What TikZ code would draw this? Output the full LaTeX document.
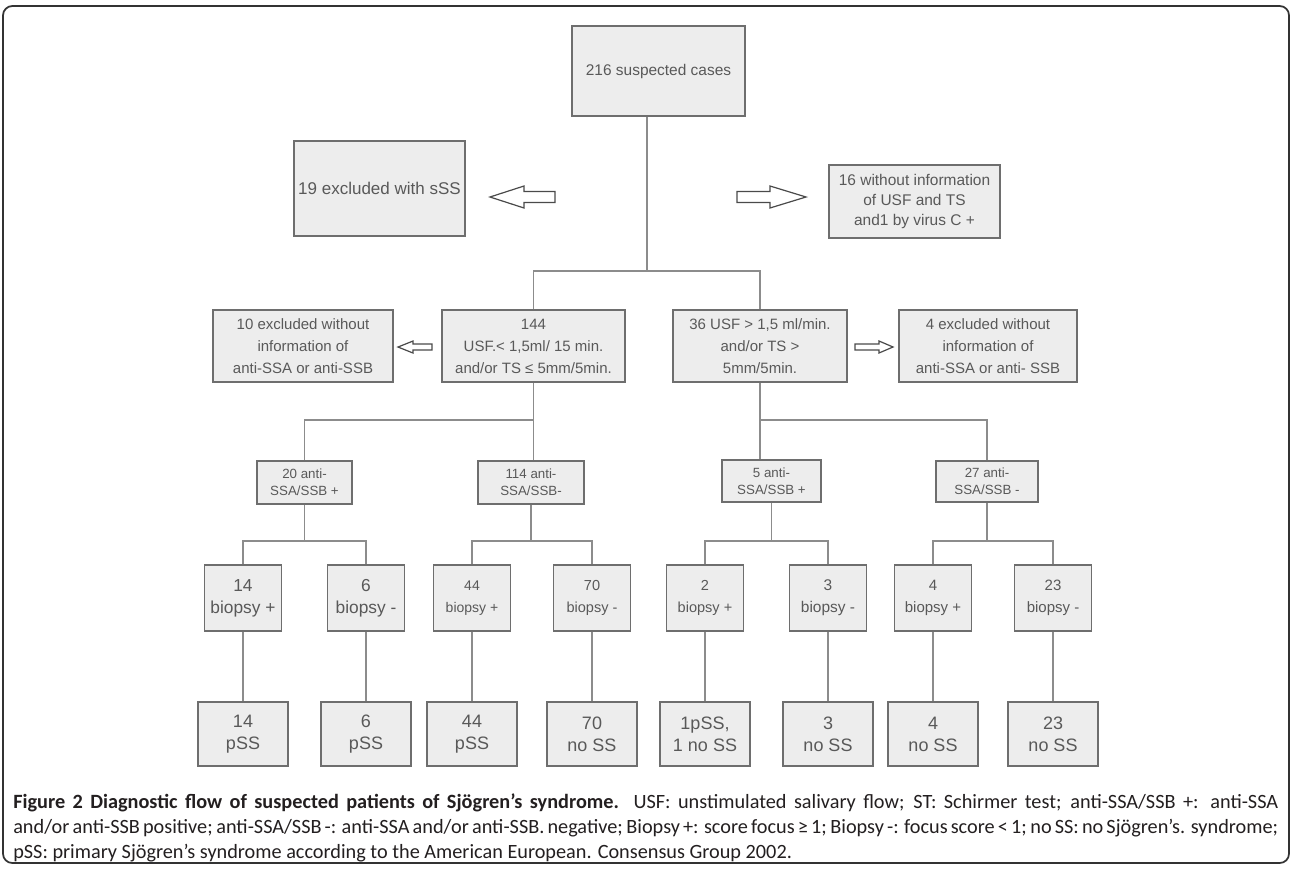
\documentclass[tikz,border=0pt]{standalone}
\usepackage{fontspec}
\setmainfont{Liberation Sans}
\newfontfamily\capfont{Carlito}
\usetikzlibrary{calc}
\definecolor{boxfill}{HTML}{EDEDED}
\definecolor{boxline}{HTML}{6E6E6E}
\definecolor{txtgray}{HTML}{595959}
\definecolor{conn}{HTML}{8C8C8C}
\definecolor{arrline}{HTML}{4A4A4A}
\definecolor{captxt}{HTML}{231F20}
\newcommand\bx[7][]{%
 \pgfmathsetmacro\bxcx{((#3)+(#5))/2}%
 \pgfmathsetmacro\bxcy{((#4)+(#6))/2}%
 \pgfmathsetmacro\bxw{((#5)-(#3))*0.75}%
 \pgfmathsetmacro\bxh{((#6)-(#4))*0.75}%
 \node[box,minimum width=\bxw pt,minimum height=\bxh pt,#1] (#2) at (\bxcx,\bxcy) {#7};}
\newcommand\bc[7][]{%
 \pgfmathsetmacro\bxcy{((#5)+(#6))/2}%
 \pgfmathsetmacro\bxw{(#4)*0.75}%
 \pgfmathsetmacro\bxh{((#6)-(#5))*0.75}%
 \node[box,minimum width=\bxw pt,minimum height=\bxh pt,#1] (#2) at (#3,\bxcy) {#7};}
\begin{document}
\begin{tikzpicture}[x=0.75pt,y=-0.75pt,
  box/.style={draw=boxline,fill=boxfill,line width=1.1pt,text=txtgray,align=center,inner sep=0pt},
  fs/.style 2 args={font={\fontsize{#1}{#2}\selectfont}},
  link/.style={draw=conn,line width=1pt},
  blockarrow/.style={draw=arrline,fill=white,line width=0.9pt,line join=miter},
  frame/.style={draw=black!80,line width=1.3pt,rounded corners=7pt},
  captext/.style={anchor=base west,inner sep=0pt,text=captxt,font={\capfont\fontsize{15.2pt}{18pt}\selectfont}}]
\useasboundingbox (0,0) rectangle (1292,868);
\fill[white] (0,0) rectangle (1292,868);
\draw[frame] (3,6) rectangle (1289,863);

% level 0 and exclusions
\bx[fs={11.6pt}{15pt}]{top}{572}{26}{745}{116}{216 suspected cases}
\bx[fs={12.75pt}{15pt}]{ex19}{294}{141}{465}{236}{\raisebox{-6.4pt}{19 excluded with sSS}}
\bx[fs={11.6pt}{15pt}]{ex16}{829}{165}{1000}{238}{16 without information\\of USF and TS\\and1 by virus C +}

% level 1
\bx[fs={11.25pt}{16.5pt}]{ex10}{213}{310}{393}{382}{10 excluded without\\information of\\anti-SSA or anti-SSB}
\bx[fs={11.25pt}{16.5pt}]{c144}{442}{310}{625}{382}{144\\USF.< 1,5ml/ 15 min.\\and/or TS ≤ 5mm/5min.}
\bx[fs={11.25pt}{16.5pt}]{c36}{673}{310}{847}{382}{36 USF > 1,5 ml/min.\\and/or TS >\\5mm/5min.}
\bx[fs={11.25pt}{16.5pt}]{ex4}{899}{310}{1077}{382}{4 excluded without\\information of\\anti-SSA or anti- SSB}

% level 2
\bx[fs={10pt}{12.75pt}]{c20}{257}{461}{352}{504}{20 anti-\\SSA/SSB +}
\bx[fs={10pt}{12.75pt}]{c114}{478}{461}{584}{504}{114 anti-\\SSA/SSB-}
\bx[fs={10pt}{12.75pt}]{c5}{722}{460}{821}{502}{5 anti-\\SSA/SSB +}
\bx[fs={10pt}{12.75pt}]{c27}{936}{461}{1038}{502}{27 anti-\\SSA/SSB -}

% level 3 (biopsy)
\bc[fs={13pt}{16.5pt}]{b14}{243}{77}{565}{631}{14\\biopsy +}
\bc[fs={13pt}{16.5pt}]{b6}{366}{77}{565}{631}{6\\biopsy -}
\bc[fs={10.5pt}{16.5pt}]{b44}{472}{77}{565}{631}{44\\biopsy +}
\bc[fs={10.9pt}{16.5pt}]{b70}{592}{77}{565}{631}{70\\biopsy -}
\bc[fs={10.9pt}{16.5pt}]{b2}{705}{77}{565}{631}{2\\biopsy +}
\bc[fs={11.6pt}{16.5pt}]{b3}{828}{77}{565}{631}{3\\biopsy -}
\bc[fs={11.25pt}{16.5pt}]{b4}{933}{77}{565}{631}{4\\biopsy +}
\bc[fs={11.25pt}{16.5pt}]{b23}{1053}{77}{565}{631}{23\\biopsy -}

% level 4 (outcome)
\bc[fs={13.5pt}{16.5pt}]{p14}{243}{90}{702}{766}{14\\pSS}
\bc[fs={13.5pt}{16.5pt}]{p6}{366}{90}{702}{766}{6\\pSS}
\bc[fs={13.5pt}{16.5pt}]{p44}{472}{90}{702}{766}{44\\pSS}
\bc[fs={13.5pt}{16.5pt}]{p70}{592}{90}{702}{766}{70\\no SS}
\bc[fs={13.5pt}{16.5pt}]{p2}{705}{90}{702}{766}{1pSS,\\1 no SS}
\bc[fs={13.5pt}{16.5pt}]{p3}{828}{90}{702}{766}{3\\no SS}
\bc[fs={13.5pt}{16.5pt}]{p4}{933}{90}{702}{766}{4\\no SS}
\bc[fs={13.5pt}{16.5pt}]{p23}{1053}{90}{702}{766}{23\\no SS}

% junction coordinates
\coordinate (j0) at (647,271);
\coordinate (h2) at (0,420);
\coordinate (h3) at (0,541);

% connectors
\draw[link] (top.south -| j0) -- (j0);
\draw[link] (c144.north) |- (j0) -| (c36.north);
\draw[link] (c144.south) -- (c144.south |- h2) -| (c20.north);
\draw[link] (c144.south |- h2) -- (c144.south |- c114.north);
\draw[link] (c36.south) -- (c36.south |- h2) -| (c27.north);
\draw[link] (c36.south |- h2) -- (c36.south |- c5.north);

\draw[link] (c20.south) -- (c20.south |- h3);
\draw[link] (b14.north) |- (c20.south |- h3) -| (b6.north);
\draw[link] (c114.south) -- (c114.south |- h3);
\draw[link] (b44.north) |- (c114.south |- h3) -| (b70.north);
\draw[link] (c5.south) -- (c5.south |- h3);
\draw[link] (b2.north) |- (c5.south |- h3) -| (b3.north);
\draw[link] (c27.south) -- (c27.south |- h3);
\draw[link] (b4.north) |- (c27.south |- h3) -| (b23.north);

\foreach \n in {14,6,44,70,2,3,4,23}{\draw[link] (b\n.south) -- (p\n.north);}

% block arrows
\draw[blockarrow] (490,197) -- (524,186) -- (524,191.5) -- (555,191.5) -- (555,202.5) -- (524,202.5) -- (524,208) -- cycle;
\draw[blockarrow] (806,197) -- (770,186) -- (770,191.5) -- (737,191.5) -- (737,202.5) -- (770,202.5) -- (770,208) -- cycle;
\draw[blockarrow] (398,347) -- (413,341) -- (413,344) -- (432,344) -- (432,350) -- (413,350) -- (413,353) -- cycle;
\draw[blockarrow] (893,347) -- (879,341) -- (879,344) -- (855,344) -- (855,350) -- (879,350) -- (879,353) -- cycle;

% caption
\node[captext] (cap1) at (13,808)
 {\makebox[948.75pt][s]{{\bfseries Figure 2 Diagnostic flow of suspected patients of Sjögren’s syndrome.} USF: unstimulated salivary flow; ST: Schirmer test; anti-SSA/SSB +: anti-SSA}};
\node[captext] (cap2) at (13,833)
 {\makebox[948.75pt][s]{and/or anti-SSB positive; anti-SSA/SSB -: anti-SSA and/or anti-SSB. negative; Biopsy +: score focus ≥ 1; Biopsy -: focus score < 1; no SS: no Sjögren’s. syndrome;}};
\node[captext] (cap3) at (13,858)
 {pSS: primary Sjögren’s syndrome according to the American European. Consensus Group 2002.};
\end{tikzpicture}
\end{document}
